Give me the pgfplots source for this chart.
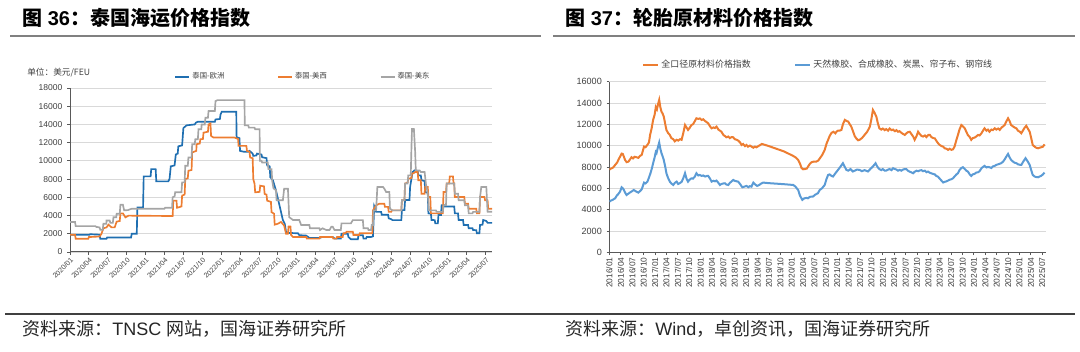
\documentclass[border=0pt]{standalone}
\usepackage{fontspec}
\usepackage{pgfplots}
\pgfplotsset{compat=1.18}
\setmainfont{Liberation Sans}
\newfontfamily\cjk{Noto Sans CJK SC}
\definecolor{lblue}{HTML}{1F6FB1}
\definecolor{corange}{HTML}{ED7D31}
\definecolor{cgray}{HTML}{A5A5A5}
\definecolor{rblue}{HTML}{5B9BD5}
\definecolor{gridc}{HTML}{D9D9D9}
\definecolor{axisc}{HTML}{595959}
\definecolor{labc}{HTML}{404040}
\pgfplotsset{
  base/.style={
    scale only axis,
    axis lines*=left,
    axis line style={draw=axisc, line width=0.75pt},
    ymajorgrids, grid style={draw=gridc, line width=0.6pt},
    tick align=outside, major tick length=2.2pt,
    tick style={draw=axisc, line width=0.6pt},
    scaled y ticks=false,
    yticklabel style={/pgf/number format/set thousands separator={}, /pgf/number format/assume math mode=true},
    ticklabel style={color=labc},
    no markers,
    legend cell align=left,
  }
}
\begin{document}
\begin{tikzpicture}[x=0.75pt,y=0.75pt]
\path[use as bounding box] (0,0) rectangle (1080,352);
% titles
\node[anchor=base west, inner sep=0pt, font=\fontsize{15}{18}\selectfont\bfseries] at (22,326) {{\cjk 图} 36{\cjk ：泰国海运价格指数}};
\node[anchor=base west, inner sep=0pt, font=\fontsize{15}{18}\selectfont\bfseries] at (565,326) {{\cjk 图} 37{\cjk ：轮胎原材料价格指数}};
\draw[color=gray, line width=1.1pt] (10,316) -- (541,316);
\draw[color=gray, line width=1.1pt] (553,316) -- (1075,316);
\draw[color=black!75, line width=1.1pt] (5,38) -- (1075,38);
\node[anchor=base west, inner sep=0pt, font=\fontsize{13.5}{16}\selectfont, color=black!85] at (22,16) {{\cjk 资料来源：}TNSC {\cjk 网站，国海证券研究所}};
\node[anchor=base west, inner sep=0pt, font=\fontsize{13.5}{16}\selectfont, color=black!85] at (565,16) {{\cjk 资料来源：}Wind{\cjk ，卓创资讯，国海证券研究所}};
\node[anchor=west, inner sep=0pt, font=\cjk\fontsize{6.5}{7}\selectfont, color=labc] at (27,279) {单位：美元/FEU};

% Left chart
\begin{axis}[base,
  at={(52.5pt,75pt)}, anchor=south west,
  width=316.5pt, height=123pt,
  xmin=0, xmax=67, ymin=0, ymax=18000,
  ytick={0,2000,...,18000},
  xtick={0,3,...,66},
  xticklabels={2020/01,2020/04,2020/07,2020/10,2021/01,2021/04,2021/07,2021/10,2022/01,2022/04,2022/07,2022/10,2023/01,2023/04,2023/07,2023/10,2024/01,2024/04,2024/07,2024/10,2025/01,2025/04,2025/07},
  yticklabel style={font=\fontsize{6.4}{7}\selectfont},
  xticklabel style={font=\fontsize{5.3}{6}\selectfont, rotate=45, anchor=north east, inner sep=1pt},
  legend style={at={(0.552,1.069)}, anchor=center, draw=none, fill=none, inner sep=0pt,
    font=\cjk\fontsize{5.5}{6}\selectfont, text=labc,
    nodes={inner sep=1.5pt},
    /tikz/every even column/.append style={column sep=38pt}},
  legend columns=3,
  legend image code/.code={\draw[#1, line width=1.5pt] (0pt,0pt) -- (10.5pt,0pt);},
]
\addplot[lblue, line width=1.25pt] coordinates {(0,1900)(3.1,1900)(3.2,1950)(4.7,1900)(4.8,1450)(5.8,1450)(5.9,1600)(9.7,1600)(9.8,2000)(10.6,2000)(10.7,4900)(11.6,4900)(11.7,8300)(12.8,8300)(12.9,9100)(13.6,9100)(13.7,7750)(15.6,7750)(15.8,8000)(16.0,9400)(16.6,9500)(16.8,10700)(17.1,10800)(17.2,11600)(17.8,11700)(18.0,13600)(18.5,13900)(19.8,14000)(20.0,14200)(20.3,14300)(23.0,14300)(23.1,14550)(23.8,14600)(23.9,15100)(24.1,15400)(26.4,15400)(26.45,12600)(26.9,12500)(27.0,11100)(27.6,11000)(28.3,11000)(28.5,11100)(29.0,10800)(29.1,10550)(29.6,10600)(29.7,10800)(30.4,10700)(30.5,10400)(31.2,10300)(31.3,9500)(31.7,9400)(31.8,8200)(32.2,7900)(32.7,6770)(33.3,5000)(33.8,3500)(34.1,3100)(34.3,2200)(34.6,2100)(36.2,2050)(36.4,1850)(37.5,1800)(37.8,1650)(38.0,1550)(39.6,1550)(40.1,1650)(41.7,1650)(42.0,1470)(43.0,1470)(43.1,2000)(44.1,2000)(44.2,1650)(44.6,1400)(45.7,1400)(45.8,1830)(46.5,1830)(46.6,1470)(47.0,1470)(47.1,1650)(47.8,1650)(48.1,1720)(48.3,5000)(48.6,4400)(49.4,4400)(49.5,4080)(50.5,4080)(50.6,3700)(51.0,3600)(51.2,3500)(52.6,3500)(52.7,4600)(53.1,4600)(53.2,5700)(53.9,5700)(54.0,7140)(54.2,8000)(54.4,8780)(54.7,8960)(55.2,8900)(55.3,8410)(55.7,8400)(55.8,7870)(56.3,7800)(56.4,6580)(56.8,6500)(56.9,4240)(57.3,4200)(57.4,3510)(57.9,3500)(58.0,3140)(58.4,3140)(58.5,4060)(58.9,4060)(59.0,5140)(59.4,5140)(59.5,5000)(61.0,5000)(61.1,4240)(61.6,4240)(61.7,3510)(62.4,3510)(62.5,2960)(63.2,2960)(63.3,2600)(63.9,2600)(64.0,2410)(64.5,2400)(64.6,2050)(65.0,2050)(65.1,2960)(65.5,3000)(65.6,3510)(66.1,3400)(66.3,3200)(67.0,3200)};
\addlegendentry{泰国-欧洲}
\addplot[corange, line width=1.25pt] coordinates {(0,1900)(0.8,1900)(0.9,1450)(2.9,1450)(3.0,1640)(4.7,1700)(5.0,2000)(5.3,2600)(5.8,2700)(6.1,3000)(6.6,2700)(7.1,2700)(7.4,3330)(7.9,3400)(8.0,4240)(8.4,4240)(8.8,3800)(9.3,3990)(16.2,3950)(16.3,3950)(16.4,5640)(16.9,5640)(17.0,4850)(17.7,5000)(17.8,6190)(18.2,6300)(18.3,8000)(18.7,8100)(18.8,8920)(19.3,9000)(19.4,10920)(20.05,11100)(20.1,11830)(20.6,11900)(20.7,12380)(21.1,12400)(21.2,13100)(21.9,13200)(22.0,14000)(22.3,14100)(22.4,12740)(22.7,12600)(22.8,12560)(26.1,12560)(26.7,12400)(26.75,11650)(28.0,11650)(28.1,11100)(28.5,11000)(28.6,10370)(29.0,10300)(29.1,8000)(29.3,7500)(29.4,6550)(30.1,6600)(30.2,7280)(30.8,7200)(30.9,6370)(31.2,6300)(31.3,5640)(31.9,5500)(32.0,4370)(32.4,4200)(32.5,3000)(33.0,3100)(33.5,3300)(34.0,2900)(34.3,2000)(34.6,2000)(34.7,2800)(35.0,2800)(35.1,1870)(35.4,1650)(37.5,1650)(37.6,1470)(39.6,1470)(39.7,1650)(41.7,1650)(41.8,1470)(42.3,1470)(42.4,1650)(43.3,1650)(43.4,2050)(43.8,2100)(43.9,2230)(44.9,2230)(45.0,1870)(45.9,1870)(46.0,2050)(48.0,2050)(48.1,4570)(48.6,5120)(49.1,5300)(49.9,5300)(50.0,4950)(50.5,4950)(50.6,4400)(51.0,4400)(51.1,4570)(52.6,4570)(52.7,5680)(53.1,5680)(53.2,7510)(53.6,7600)(53.7,8060)(54.2,8100)(54.3,8600)(54.7,8700)(54.8,8780)(55.2,8780)(55.3,7870)(55.7,7870)(55.8,6400)(56.3,6400)(56.4,7140)(56.8,7140)(56.9,6030)(57.2,6030)(57.3,4240)(59.2,4240)(59.3,6580)(59.7,6580)(59.8,7510)(60.2,7510)(60.3,8300)(60.8,8300)(60.9,7510)(61.0,7510)(61.1,6030)(62.6,6030)(62.7,5300)(63.2,5300)(63.3,4750)(64.5,4750)(64.6,4240)(65.0,4240)(65.1,6030)(65.8,6030)(65.9,5670)(66.3,5670)(66.4,4750)(67.0,4750)};
\addlegendentry{泰国-美西}
\addplot[cgray, line width=1.25pt] coordinates {(0,3290)(0.8,3290)(0.9,2840)(4.0,2840)(4.2,2750)(4.7,2700)(4.8,2450)(5.2,2450)(5.3,3100)(5.77,3100)(5.8,3460)(6.3,3460)(6.4,3200)(6.8,3200)(6.9,3820)(7.35,3820)(7.4,4190)(7.9,4190)(8.0,5180)(8.4,5180)(8.6,4570)(9.2,4600)(9.8,4750)(15.0,4750)(15.1,4860)(16.2,4860)(16.3,6000)(16.6,6100)(16.7,6550)(17.7,6550)(17.8,7640)(18.2,7640)(18.3,9460)(18.7,9460)(18.8,10370)(19.3,10370)(19.4,11830)(19.8,11830)(19.9,12380)(20.3,12380)(20.4,13470)(20.85,13470)(20.9,14000)(21.4,14000)(21.5,14740)(21.9,14740)(22.0,15470)(23.0,15470)(23.1,16560)(23.4,16670)(27.7,16670)(27.75,13900)(28.3,13900)(28.4,13650)(29.3,13650)(29.4,13470)(30.1,13470)(30.15,10010)(30.4,10010)(30.5,9830)(31.4,9830)(31.5,9100)(32.0,9100)(32.1,7830)(32.3,7000)(32.7,6770)(32.8,5680)(33.8,5680)(34.0,6950)(34.6,6950)(34.8,3830)(35.4,3510)(36.4,3510)(36.7,2960)(38.0,2960)(38.1,2600)(39.6,2600)(39.7,2410)(40.1,2600)(40.7,2410)(41.2,2410)(41.5,2780)(41.7,2780)(42.0,2410)(43.0,2410)(43.1,3140)(44.6,3140)(44.9,3500)(46.5,3500)(46.6,2600)(47.3,2600)(47.4,2410)(47.8,2410)(47.9,2960)(48.1,2960)(48.2,4570)(48.6,4570)(48.8,7140)(49.7,7140)(49.9,6950)(50.2,6580)(50.7,6580)(50.8,4750)(51.2,4570)(52.6,4570)(52.7,5680)(53.1,5680)(53.2,7510)(53.6,7510)(53.7,8410)(54.1,8410)(54.2,11160)(54.3,13500)(54.6,13500)(54.8,11000)(54.9,8960)(55.5,8960)(55.7,8780)(56.3,8780)(56.5,7510)(56.8,6400)(57.0,4570)(58.1,4570)(58.2,4400)(59.2,4400)(59.3,5120)(59.7,5120)(59.8,7510)(61.0,7510)(61.1,6400)(61.6,6400)(61.7,5680)(62.6,5680)(62.7,5120)(63.2,5120)(63.3,4240)(63.9,4240)(64.0,4400)(65.0,4400)(65.1,6030)(65.3,7140)(66.1,7140)(66.2,5680)(66.3,4410)(67.0,4410)};
\addlegendentry{泰国-美东}
\end{axis}

% Right chart
\begin{axis}[base,
  at={(457.1pt,74.8pt)}, anchor=south west,
  width=327.4pt, height=128pt,
  xmin=0, xmax=115, ymin=0, ymax=16000,
  ytick={0,2000,...,16000},
  xtick={0,3,...,114},
  xticklabels={2016/01,2016/04,2016/07,2016/10,2017/01,2017/04,2017/07,2017/10,2018/01,2018/04,2018/07,2018/10,2019/01,2019/04,2019/07,2019/10,2020/01,2020/04,2020/07,2020/10,2021/01,2021/04,2021/07,2021/10,2022/01,2022/04,2022/07,2022/10,2023/01,2023/04,2023/07,2023/10,2024/01,2024/04,2024/07,2024/10,2025/01,2025/04,2025/07},
  yticklabel style={font=\fontsize{6.8}{7.5}\selectfont},
  xticklabel style={font=\fontsize{6.3}{7}\selectfont, rotate=90, anchor=east, inner sep=1.5pt},
  legend style={at={(0.478,1.098)}, anchor=center, draw=none, fill=none, inner sep=0pt,
    font=\cjk\fontsize{6.7}{7}\selectfont, text=labc,
    nodes={inner sep=1.5pt},
    /tikz/every even column/.append style={column sep=31pt}},
  legend columns=2,
  legend image code/.code={\draw[#1, line width=1.5pt] (0pt,0pt) -- (11.5pt,0pt);},
]
\addplot[corange, line width=1.5pt] coordinates {(0,7750)(0.4,7850)(0.8,7900)(1.2,8050)(1.5,8190)(2,8400)(2.4,8700)(2.8,8970)(3.2,9250)(3.5,9220)(3.8,8950)(4.1,8660)(4.5,8450)(5,8500)(5.4,8700)(5.8,8910)(6.2,8800)(6.6,8950)(7.1,8910)(7.6,8850)(8.1,9050)(8.5,9130)(9.1,9910)(9.5,9850)(10,10070)(10.4,10300)(10.7,11000)(11.1,11600)(11.5,12410)(11.9,12900)(12.2,13600)(12.5,13400)(12.8,13900)(13.1,14290)(13.4,13600)(13.7,13190)(14,13000)(14.3,12720)(14.7,12000)(15,11470)(15.4,11200)(15.9,11000)(16.3,10700)(16.8,10600)(17.2,10400)(17.7,10550)(18.1,10470)(18.6,10600)(19,10540)(19.4,11100)(19.9,11930)(20.3,11700)(20.7,11470)(21.1,11650)(21.6,11930)(22,12000)(22.5,12300)(22.9,12560)(23.4,12500)(23.8,12550)(24.3,12400)(24.7,12470)(25.2,12300)(25.6,12200)(26,12090)(26.5,11800)(26.9,11620)(27.4,11700)(27.8,11650)(28.2,11780)(28.7,11500)(29.1,11400)(29.5,11300)(30,11000)(30.4,10900)(30.8,10780)(31.3,10850)(31.7,10700)(32.2,10800)(32.6,10780)(33,10600)(33.5,10550)(33.9,10470)(34.4,10300)(34.8,10060)(35.2,10150)(35.7,9950)(36.1,10060)(36.5,9900)(37,10000)(37.4,9910)(37.9,9800)(38.3,9900)(38.7,9840)(39.2,9950)(39.7,10050)(40.1,10150)(40.5,10120)(42,9950)(44,9700)(46,9450)(48.4,9030)(49,8900)(49.7,8660)(50.2,8300)(50.6,7900)(51,7780)(51.5,7800)(52,7850)(52.3,8030)(52.8,8300)(53.3,8450)(53.8,8500)(54.5,8500)(55,8600)(55.4,8800)(56,9100)(56.7,9600)(57.2,10200)(57.6,10540)(58,10900)(58.5,11200)(59,11300)(59.5,11150)(59.8,11300)(60.2,11400)(60.6,11400)(61.1,11470)(61.5,12000)(62,12410)(62.5,12300)(62.9,12250)(63.3,12000)(63.7,11780)(64.1,11400)(64.6,10900)(65,10680)(65.5,10500)(65.9,10540)(66.5,10700)(67.2,11000)(67.9,11300)(68.6,11780)(69,12500)(69.4,13340)(69.8,13100)(70.3,12720)(70.7,12100)(71.1,11620)(71.6,11500)(72,11600)(72.5,11450)(72.9,11550)(73.4,11400)(73.8,11600)(74.3,11450)(74.7,11500)(75.2,11350)(75.6,11450)(76,11300)(76.4,11350)(76.9,11200)(77.3,11100)(77.8,11000)(78.2,11150)(78.6,11250)(79.1,11300)(79.5,11100)(80,10850)(80.4,10540)(80.9,10900)(81.3,11300)(81.7,11100)(82.2,10900)(82.6,10850)(83.1,10950)(83.5,10800)(84,11000)(84.4,11000)(84.8,10800)(85.3,10700)(85.7,10680)(86.2,10400)(86.6,10200)(87,10060)(87.5,9950)(87.9,9900)(88.3,9750)(88.8,9700)(89.2,9600)(89.6,9700)(90.1,9600)(90.5,9650)(90.9,9900)(91.4,10540)(91.8,11000)(92.2,11500)(92.7,11930)(93.1,11800)(93.6,11620)(94,11300)(94.4,11000)(94.9,10800)(95.3,10540)(95.7,10700)(96.2,10750)(96.6,10850)(97.1,11000)(97.5,10950)(98,11160)(98.4,11400)(98.8,11620)(99.3,11400)(99.7,11500)(100.1,11300)(100.6,11500)(101,11450)(101.5,11620)(101.9,11500)(102.4,11600)(102.8,11470)(103.3,11700)(103.7,11800)(104.1,11930)(104.6,12300)(105,12560)(105.4,12300)(105.8,11930)(106.3,11800)(106.7,11700)(107.2,11620)(107.6,11400)(108.1,11300)(108.5,11160)(108.9,11400)(109.4,11700)(109.8,11850)(110.2,11600)(110.7,11300)(111.1,10700)(111.5,10060)(112,9900)(112.4,9800)(112.9,9750)(113.3,9800)(113.7,9840)(114.2,9900)(114.6,10120)};
\addlegendentry{全口径原材料价格指数}
\addplot[rblue, line width=1.5pt] coordinates {(0,4750)(0.4,4850)(0.8,4900)(1.2,5000)(1.5,5060)(1.9,5300)(2.35,5470)(2.8,5700)(3.2,6090)(3.5,6000)(3.8,5840)(4.1,5600)(4.5,5370)(5,5500)(5.4,5600)(5.8,5690)(6.4,5840)(7,5700)(7.6,5590)(8.1,5750)(8.5,5900)(9.1,6530)(9.5,6450)(10,6620)(10.4,7000)(10.8,7410)(11.2,7900)(11.5,8350)(11.9,8900)(12.2,9400)(12.4,9300)(12.8,9900)(13.1,10290)(13.4,9700)(13.7,9290)(14,9000)(14.3,8660)(14.7,8000)(15,7410)(15.4,7000)(15.9,6620)(16.3,6450)(16.8,6310)(17.2,6500)(17.7,6620)(18.1,6400)(18.5,6470)(19,6600)(19.4,6900)(19.9,7410)(20.3,6900)(20.7,6620)(21.1,6800)(21.6,6930)(22,6900)(22.5,7100)(22.9,7410)(23.4,7200)(23.8,7250)(24.3,7160)(24.7,7200)(25.2,7100)(25.6,7150)(26,7160)(26.5,6900)(26.9,6620)(27.4,6700)(27.8,6650)(28.2,6720)(28.7,6500)(29.1,6310)(29.5,6400)(30,6450)(30.4,6470)(30.8,6350)(31.3,6310)(31.7,6500)(32.2,6650)(32.6,6780)(33,6700)(33.5,6650)(33.9,6620)(34.4,6400)(35,6090)(35.5,6150)(36.1,6220)(36.6,6100)(37,6200)(37.4,6150)(37.9,6530)(38.4,6350)(38.9,6220)(39.4,6300)(40,6450)(40.5,6530)(42,6480)(44,6430)(46,6380)(48.4,6310)(49,6150)(49.7,5840)(50.2,5300)(50.8,4910)(51.3,5050)(51.9,5100)(52.3,5060)(52.8,5200)(53.6,5220)(54.2,5400)(54.9,5530)(55.4,5840)(56,6000)(56.7,6310)(57.2,6900)(57.6,7250)(58,7300)(58.5,7150)(58.9,7100)(59.5,7400)(60.2,7720)(60.8,8000)(61.5,8350)(62,8000)(62.4,7720)(62.9,7650)(63.5,7800)(64.1,7570)(64.6,7650)(65.2,7750)(65.9,7720)(66.5,7600)(67.2,7700)(68.1,7570)(68.7,7800)(69.4,8040)(70.1,8350)(70.6,8000)(71.1,7790)(71.6,7700)(72,7800)(72.5,7650)(72.9,7660)(73.4,7750)(73.8,7800)(74.3,7700)(74.7,7880)(75.2,7800)(75.6,7750)(76,7650)(76.4,7720)(76.9,7650)(77.3,7750)(77.8,7800)(78.2,7790)(78.6,7650)(79.1,7550)(79.5,7500)(80,7410)(80.4,7550)(80.9,7650)(81.3,7600)(81.7,7660)(82.2,7700)(82.6,7600)(83.1,7650)(83.5,7500)(83.9,7570)(84.4,7450)(84.8,7400)(85.2,7350)(85.7,7300)(86.1,7150)(86.5,7100)(87,6900)(87.5,6700)(87.9,6540)(88.3,6600)(88.8,6650)(89.2,6720)(89.6,6800)(90.1,6850)(90.5,6940)(90.9,7100)(91.4,7300)(91.8,7410)(92.2,7700)(92.7,7900)(93.1,7970)(93.6,7800)(94,7650)(94.4,7570)(94.9,7300)(95.3,7160)(95.7,7300)(96.2,7350)(96.6,7470)(97.1,7500)(97.5,7600)(98,7880)(98.4,8000)(98.8,8100)(99.3,7950)(99.7,8000)(100.1,7970)(100.6,7900)(101,8050)(101.5,8100)(101.9,8190)(102.4,8250)(102.8,8300)(103.2,8350)(103.7,8500)(104.1,8700)(104.6,9000)(105,9220)(105.4,8900)(105.8,8660)(106.3,8500)(106.7,8400)(107.2,8350)(107.6,8250)(108.1,8200)(108.5,8190)(109,8500)(109.6,8820)(110.2,8500)(110.7,8190)(111.1,7700)(111.5,7250)(112,7100)(112.4,7050)(112.9,7030)(113.3,7100)(113.7,7160)(114.2,7300)(114.6,7470)};
\addlegendentry{天然橡胶、合成橡胶、炭黑、帘子布、钢帘线}
\end{axis}
\end{tikzpicture}
\end{document}
